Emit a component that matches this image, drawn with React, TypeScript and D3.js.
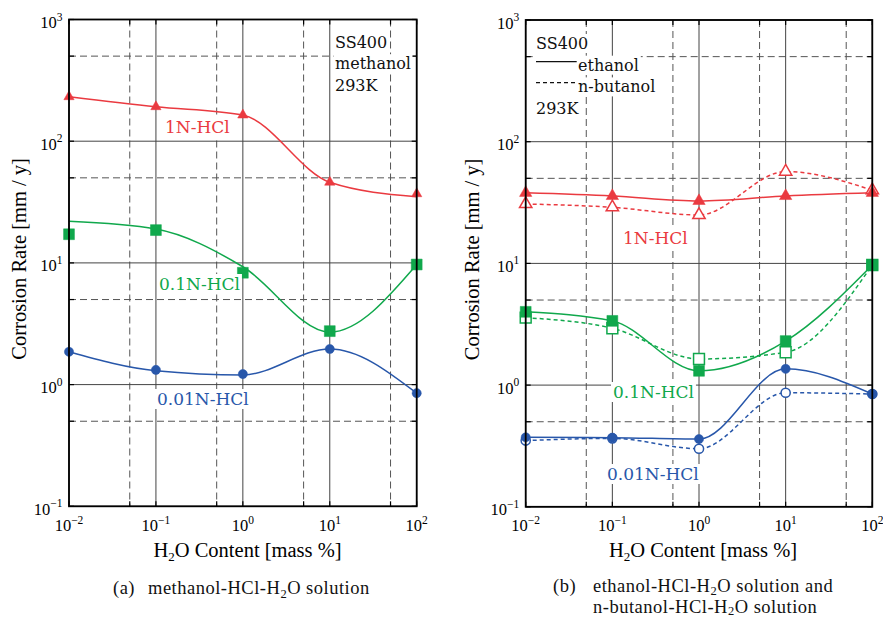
import React, { useEffect, useRef } from "react";
import * as d3 from "d3";

// H2O content (mass %) where the samples were taken
const h2o = [0.01, 0.1, 1, 10, 100];
const xTickExp = [-2, -1, 0, 1, 2];
const yTickExp = [-1, 0, 1, 2, 3];
const xHalf = [0.05, 0.5, 5, 50];
const yHalf = [0.5, 5, 50, 500];

// (a) methanol, measured points
const meth1N = [232, 192, 164, 46, 37];
const meth01N = [17.2, 18.6, 8.3, 2.75, 9.7];
const meth001N = [1.86, 1.32, 1.22, 1.96, 0.85];
// (a) hand-drawn trend curves
const meth1NFit = [232, 192, 164, 46, 35];
const meth01NFit = [22, 19, 9.3, 2.7, 9.7];
const meth001NFit = [1.86, 1.3, 1.2, 1.96, 0.85];

// (b) ethanol (solid) and n-butanol (dashed)
const eth1N = [38, 35.8, 32.6, 35.8, 38];
const but1N = [30.8, 28.9, 25, 56.8, 40];
const eth01N = [4.0, 3.37, 1.31, 2.3, 9.7];
const but01N = [3.58, 2.93, 1.64, 1.86, 9.7];
const eth001N = [0.372, 0.37, 0.36, 1.36, 0.845];
const but001N = [0.35, 0.365, 0.3, 0.865, 0.845];

const RED = "#ea3a40";
const GREEN = "#10a84c";
const BLUE = "#2857aa";
const SERIF = "'Liberation Serif', 'Times New Roman', serif";
const CENTURY = "'DejaVu Serif', serif";

type Series = {
  values: number[];
  fit?: number[];
  color: string;
  marker: "tri" | "sq" | "circ";
  open?: boolean;
  dashed?: boolean;
};

type Label = { text: string; x: number; y: number; color: string };

type PanelOpts = {
  left: number;
  right: number;
  top: number;
  bottom: number;
  series: Series[];
  labels: Label[];
  yTitleX: number;
  xTitleX: number;
  triSize: number;
};

const withBg = (t: d3.Selection<SVGTextElement, unknown, null, undefined>, pad = 2) => {
  const node = t.node()!;
  const b = node.getBBox();
  d3.select(node.parentNode as SVGGElement)
    .insert("rect", () => node)
    .attr("x", b.x - pad)
    .attr("y", b.y)
    .attr("width", b.width + pad * 2)
    .attr("height", b.height)
    .attr("fill", "#fff");
};

const App: React.FC = () => {
  const svgRef = useRef<SVGSVGElement | null>(null);

  useEffect(() => {
    const svg = d3.select(svgRef.current);
    svg.selectAll("*").remove();
    svg.append("rect").attr("width", 883).attr("height", 617).attr("fill", "#fff");

    const drawPanel = (o: PanelOpts) => {
      const g = svg.append("g");
      const x = d3.scaleLog().domain([0.01, 100]).range([o.left, o.right]);
      const y = d3.scaleLog().domain([0.1, 1000]).range([o.bottom, o.top]);
      const xDec = xTickExp.map(e => Math.pow(10, e));
      const yDec = yTickExp.map(e => Math.pow(10, e));

      // dashed grid at 5x
      g.selectAll(".vh").data(xHalf).enter().append("line")
        .attr("x1", d => x(d)).attr("x2", d => x(d))
        .attr("y1", o.top).attr("y2", o.bottom)
        .attr("stroke", "#555").attr("stroke-width", 1).attr("stroke-dasharray", "7,4");
      g.selectAll(".hh").data(yHalf).enter().append("line")
        .attr("y1", d => y(d)).attr("y2", d => y(d))
        .attr("x1", o.left).attr("x2", o.right)
        .attr("stroke", "#555").attr("stroke-width", 1).attr("stroke-dasharray", "7,4");
      // solid grid at decades
      g.selectAll(".vd").data(xDec).enter().append("line")
        .attr("x1", d => x(d)).attr("x2", d => x(d))
        .attr("y1", o.top).attr("y2", o.bottom)
        .attr("stroke", "#444").attr("stroke-width", 1);
      g.selectAll(".hd").data(yDec).enter().append("line")
        .attr("y1", d => y(d)).attr("y2", d => y(d))
        .attr("x1", o.left).attr("x2", o.right)
        .attr("stroke", "#444").attr("stroke-width", 1);

      // inner ticks
      const tk = 5;
      xDec.concat(xHalf).forEach(v => {
        g.append("line").attr("x1", x(v)).attr("x2", x(v)).attr("y1", o.bottom).attr("y2", o.bottom - tk).attr("stroke", "#000").attr("stroke-width", 1.2);
        g.append("line").attr("x1", x(v)).attr("x2", x(v)).attr("y1", o.top).attr("y2", o.top + tk).attr("stroke", "#000").attr("stroke-width", 1.2);
      });
      yDec.concat(yHalf).forEach(v => {
        g.append("line").attr("y1", y(v)).attr("y2", y(v)).attr("x1", o.left).attr("x2", o.left + tk).attr("stroke", "#000").attr("stroke-width", 1.2);
        g.append("line").attr("y1", y(v)).attr("y2", y(v)).attr("x1", o.right).attr("x2", o.right - tk).attr("stroke", "#000").attr("stroke-width", 1.2);
      });

      // curves
      const line = d3.line<number>()
        .x((_, i) => x(h2o[i]))
        .y(d => y(d))
        .curve(d3.curveMonotoneX);
      o.series.forEach(s => {
        g.append("path")
          .attr("d", line(s.fit ?? s.values))
          .attr("fill", "none")
          .attr("stroke", s.color)
          .attr("stroke-width", 1.5)
          .attr("stroke-dasharray", s.dashed ? "4,3" : null);
      });

      // markers: open first, filled on top
      const sym = (m: Series["marker"]) =>
        m === "tri"
          ? d3.symbol(d3.symbolTriangle, o.triSize)
          : m === "sq"
          ? d3.symbol(d3.symbolSquare, 118)
          : d3.symbol(d3.symbolCircle, 66);
      const ordered = o.series.filter(s => s.open).concat(o.series.filter(s => !s.open));
      ordered.forEach(s => {
        g.selectAll(null).data(s.values).enter().append("path")
          .attr("d", sym(s.marker)()!)
          .attr("transform", (d, i) => `translate(${x(h2o[i])},${y(d)})`)
          .attr("fill", s.open ? "#fff" : s.color)
          .attr("stroke", s.color)
          .attr("stroke-width", s.open ? 1.5 : 0.5);
      });

      // series labels
      o.labels.forEach(l => {
        const t = g.append("text")
          .attr("x", l.x).attr("y", l.y)
          .attr("font-family", CENTURY).attr("font-size", 17)
          .attr("fill", l.color).text(l.text);
        withBg(t);
      });

      // frame
      g.append("rect")
        .attr("x", o.left).attr("y", o.top)
        .attr("width", o.right - o.left).attr("height", o.bottom - o.top)
        .attr("fill", "none").attr("stroke", "#000").attr("stroke-width", 1.8);

      // tick labels
      const pow = (sel: d3.Selection<SVGTextElement, number, SVGGElement, unknown>) => {
        sel.append("tspan").text("10");
        sel.append("tspan").attr("dy", -7.5).attr("font-size", 11.5)
          .text(d => (d < 0 ? "\u2212" + Math.abs(d) : String(d)));
      };
      g.selectAll(".xl").data(xTickExp).enter().append("text")
        .attr("x", d => x(Math.pow(10, d))).attr("y", 531)
        .attr("text-anchor", "middle")
        .attr("font-family", SERIF).attr("font-size", 16.5)
        .call(pow);
      g.selectAll(".yl").data(yTickExp).enter().append("text")
        .attr("x", o.left - 6.5).attr("y", d => y(Math.pow(10, d)) + 8.5)
        .attr("text-anchor", "end")
        .attr("font-family", SERIF).attr("font-size", 16.5)
        .call(pow);

      // x title
      const xt = g.append("text")
        .attr("x", o.xTitleX).attr("y", 557)
        .attr("text-anchor", "middle")
        .attr("font-family", SERIF).attr("font-size", 20.5);
      xt.append("tspan").text("H");
      xt.append("tspan").attr("dy", 4).attr("font-size", 13).text("2");
      xt.append("tspan").attr("dy", -4).text("O Content  [mass %]");

      // y title
      g.append("text")
        .attr("transform", `translate(${o.yTitleX},${(o.top + o.bottom) / 2 - 4}) rotate(-90)`)
        .attr("text-anchor", "middle")
        .attr("font-family", SERIF).attr("font-size", 20.5)
        .text("Corrosion Rate  [mm / y]");

      return g;
    };

    // panel (a)
    const ga = drawPanel({
      left: 69, right: 416.7, top: 19.5, bottom: 506.3,
      triSize: 46,
      xTitleX: 247.5, yTitleX: 26,
      series: [
        { values: meth1N, fit: meth1NFit, color: RED, marker: "tri" },
        { values: meth01N, fit: meth01NFit, color: GREEN, marker: "sq" },
        { values: meth001N, fit: meth001NFit, color: BLUE, marker: "circ" },
      ],
      labels: [
        { text: "1N-HCl", x: 165, y: 133, color: RED },
        { text: "0.1N-HCl", x: 159, y: 290, color: GREEN },
        { text: "0.01N-HCl", x: 157, y: 405, color: BLUE },
      ],
    });
    ["SS400", "methanol", "293K"].forEach((s, i) => {
      const t = ga.append("text").attr("x", 335).attr("y", 47.5 + i * 21.7)
        .attr("font-family", CENTURY).attr("font-size", 16).attr("fill", "#111").text(s);
      withBg(t, 1.5);
    });

    // panel (b)
    const gb = drawPanel({
      left: 525.7, right: 872.3, top: 20, bottom: 506.8,
      triSize: 66,
      xTitleX: 703, yTitleX: 479,
      series: [
        { values: but1N, color: RED, marker: "tri", open: true, dashed: true },
        { values: eth1N, color: RED, marker: "tri" },
        { values: but01N, color: GREEN, marker: "sq", open: true, dashed: true },
        { values: eth01N, color: GREEN, marker: "sq" },
        { values: but001N, color: BLUE, marker: "circ", open: true, dashed: true },
        { values: eth001N, color: BLUE, marker: "circ" },
      ],
      labels: [
        { text: "1N-HCl", x: 623, y: 244, color: RED },
        { text: "0.1N-HCl", x: 613, y: 398, color: GREEN },
        { text: "0.01N-HCl", x: 607, y: 480, color: BLUE },
      ],
    });
    const legRows = ["SS400", "ethanol", "n-butanol", "293K"];
    const legX = [536, 578, 578, 536];
    legRows.forEach((s, i) => {
      const t = gb.append("text").attr("x", legX[i]).attr("y", 49 + i * 21.7)
        .attr("font-family", CENTURY).attr("font-size", 16).attr("fill", "#111").text(s);
      withBg(t, 2);
    });
    gb.append("rect").attr("x", 534).attr("y", 55).attr("width", 44).attr("height", 34).attr("fill", "#fff");
    gb.append("line").attr("x1", 536).attr("x2", 576.7).attr("y1", 61.7).attr("y2", 61.7)
      .attr("stroke", "#111").attr("stroke-width", 1.2);
    gb.append("line").attr("x1", 536).attr("x2", 576.7).attr("y1", 82.7).attr("y2", 82.7)
      .attr("stroke", "#111").attr("stroke-width", 1.2).attr("stroke-dasharray", "4,3");

    // captions
    const cap = svg.append("g").attr("font-family", SERIF).attr("font-size", 18.5)
      .attr("letter-spacing", 0.5).attr("fill", "#111");
    const capA = cap.append("text").attr("y", 594);
    capA.append("tspan").attr("x", 113).text("(a)");
    capA.append("tspan").attr("x", 148).text("methanol-HCl-H");
    capA.append("tspan").attr("dy", 4).attr("font-size", 12.5).text("2");
    capA.append("tspan").attr("dy", -4).text("O solution");

    const capB = cap.append("text").attr("y", 592.2);
    capB.append("tspan").attr("x", 553).text("(b)");
    capB.append("tspan").attr("x", 593).text("ethanol-HCl-H");
    capB.append("tspan").attr("dy", 3).attr("font-size", 12.5).text("2");
    capB.append("tspan").attr("dy", -3).text("O solution and");
    const capB2 = cap.append("text").attr("y", 612.8);
    capB2.append("tspan").attr("x", 593).text("n-butanol-HCl-H");
    capB2.append("tspan").attr("dy", 2.5).attr("font-size", 12.5).text("2");
    capB2.append("tspan").attr("dy", -2.5).text("O solution");
  }, []);

  return (
    <svg
      ref={svgRef}
      width={883}
      height={617}
      style={{ position: "absolute", left: 0, top: 0, display: "block" }}
    />
  );
};

export default App;
